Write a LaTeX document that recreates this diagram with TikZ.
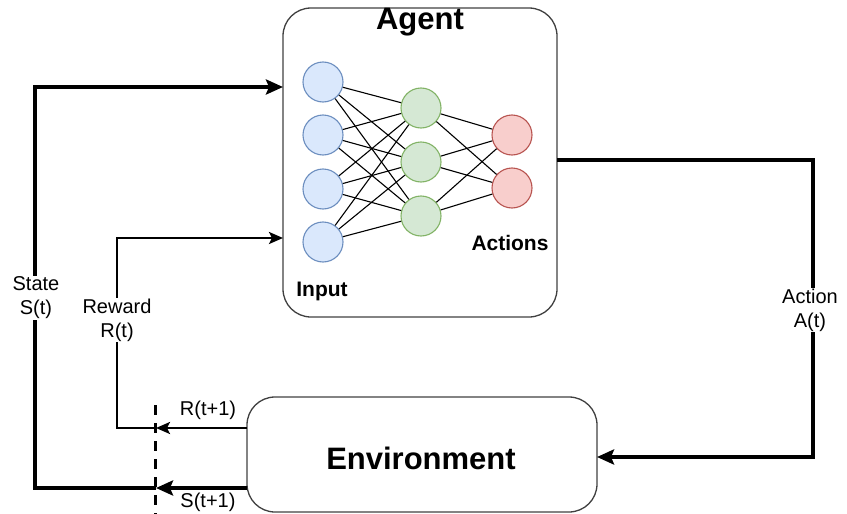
\documentclass[tikz,border=0pt]{standalone}
\usepackage{fontspec}
\setmainfont{Liberation Sans}
\usetikzlibrary{arrows.meta}

\definecolor{inFill}{HTML}{DAE8FC}
\definecolor{inLine}{HTML}{6C8EBF}
\definecolor{hidFill}{HTML}{D5E8D4}
\definecolor{hidLine}{HTML}{82B366}
\definecolor{outFill}{HTML}{F8CECC}
\definecolor{outLine}{HTML}{B85450}

\begin{document}
\begin{tikzpicture}[x=1pt,y=-1pt]
	\tikzstyle{unit}=[draw,shape=circle,minimum size=40pt,inner sep=0pt,line width=1.1pt]
	\tikzstyle{box}=[draw=black!75,rounded corners=28pt,line width=1.3pt]
	\tikzstyle{lbl}=[fill=white,align=center,inner sep=1pt,font=\fontsize{20}{24}\selectfont]
	\tikzstyle{big}=[font=\fontsize{31}{36}\selectfont\bfseries]
	\tikzstyle{small}=[font=\fontsize{21}{24}\selectfont\bfseries]
	\tikzstyle{thickflow}=[line width=3.5pt]
	\tikzstyle{thinflow}=[line width=2.4pt]
	\tikzstyle{bigtip}=[-{Stealth[length=17pt,width=15pt,inset=3pt]}]
	\tikzstyle{smalltip}=[-{Stealth[length=14pt,width=12pt,inset=3pt]}]

	\useasboundingbox (0,0) rectangle (847,514);

	% boxes
	\node[box,minimum width=274pt,minimum height=309pt](agent) at (420,162.5){};
	\node[big](agentlbl) at (420,22){Agent};
	\node[box,minimum width=350pt,minimum height=115pt](env) at (422,454.5){};
	\node[big](envlbl) at (421,458){Environment};

	% network
	\foreach \i/\y in {1/82,2/135,3/189,4/242}
		\node[unit,fill=inFill,draw=inLine](in\i) at (323,\y){};
	\foreach \j/\y in {1/108,2/162,3/216}
		\node[unit,fill=hidFill,draw=hidLine](h\j) at (421,\y){};
	\foreach \k/\y in {1/135,2/188}
		\node[unit,fill=outFill,draw=outLine](out\k) at (512,\y){};
	\foreach \i in {1,...,4}
		\foreach \j in {1,2,3}
			\draw[line width=1.1pt] (in\i) -- (h\j);
	\foreach \j in {1,2,3}
		\foreach \k in {1,2}
			\draw[line width=1.1pt] (h\j) -- (out\k);
	\node[small](inlbl) at (322,291){Input};
	\node[small](actlbl) at (510,243){Actions};

	% connectors
	\coordinate (sEnv) at (247,488);
	\coordinate (sMid) at (156,488);
	\coordinate (sLeft) at (35,488);
	\coordinate (sTop) at (35,87);
	\coordinate (sAgent) at (283,87);
	\coordinate (rEnv) at (247,428);
	\coordinate (rMid) at (156,428);
	\coordinate (rLeft) at (117,428);
	\coordinate (rTop) at (117,238);
	\coordinate (rAgent) at (283,238);
	\coordinate (aAgent) at (557,160);
	\coordinate (aRight) at (813,160);
	\coordinate (aLow) at (813,457);
	\coordinate (aEnv) at (597,457);
	\coordinate (cutTop) at (155,405);
	\coordinate (cutBot) at (155,514);

	\draw[thickflow,bigtip] (sEnv) -- (sMid);
	\draw[thickflow,bigtip] (sMid) -- (sLeft) -- (sTop) -- (sAgent);
	\draw[thinflow,smalltip] (rEnv) -- (rMid);
	\draw[thinflow,smalltip] (rMid) -- (rLeft) -- (rTop) -- (rAgent);
	\draw[thickflow,bigtip] (aAgent) -- (aRight) -- (aLow) -- (aEnv);
	\draw[line width=3pt,dash pattern=on 10pt off 8pt] (cutTop) -- (cutBot);

	% labels
	\node[lbl](statelbl) at (36,298){State\\S(t)};
	\node[lbl](rewardlbl) at (117,320){Reward\\R(t)};
	\node[lbl](actionlbl) at (810,310){Action\\A(t)};
	\node[lbl,fill=none](rnext) at (208,410){R(t+1)};
	\node[lbl,fill=none](snext) at (208,502){S(t+1)};
\end{tikzpicture}
\end{document}
